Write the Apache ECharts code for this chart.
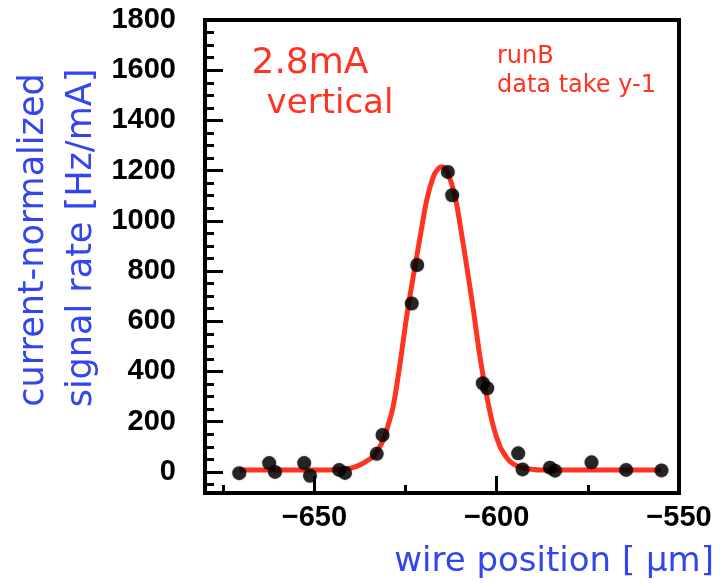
<!DOCTYPE html>
<html>
<head>
<meta charset="utf-8">
<script src="https://cdn.jsdelivr.net/npm/echarts@6/dist/echarts.min.js"></script>
<style>html,body{margin:0;padding:0;background:#fff}#c{width:720px;height:583px}</style>
</head>
<body>
<div id="c"></div>
<script>
// measured points
var pointX = [-670.6, -662.4, -660.8, -652.8, -651.2, -643.2, -641.6, -632.9, -631.3, -623.3, -621.8, -613.4, -612.2, -603.8, -602.6, -594.1, -592.9, -585.4, -584.0, -574.0, -564.5, -554.8];
var pointY = [-5, 35, 0, 35, -15, 8, -4, 72, 147, 671, 824, 1195, 1102, 353, 333, 74, 10, 17, 5, 38, 8, 6];
// fitted curve
var fitX = [-670.5, -660, -650, -643, -640, -637.5, -635.5, -633.8, -632.5, -631.1, -629.8, -628.4, -626.5, -624.7, -622.9, -621.0, -619.2, -617.4, -616.2, -615.1, -614.2, -613.3, -611.4, -610.1, -608.2, -606.4, -604.6, -602.7, -600.9, -599.1, -597.5, -596.3, -594.5, -592.7, -590, -588, -575, -554.8];
var fitY = [8, 8, 8, 10, 15, 28, 45, 61, 90, 127, 185, 260, 432, 618, 777, 936, 1082, 1175, 1205, 1215, 1208, 1189, 1096, 990, 817, 645, 459, 300, 180, 101, 62, 41, 24, 15, 10, 8, 8, 8];
var yLabels = [0, 200, 400, 600, 800, 1000, 1200, 1400, 1600, 1800];
var yMinor = [-50, 50, 100, 150, 250, 300, 350, 450, 500, 550, 650, 700, 750, 850, 900, 950, 1050, 1100, 1150, 1250, 1300, 1350, 1450, 1500, 1550, 1650, 1700, 1750];
var xLabels = [-650, -600, -550];
var xMajor = [-650, -600];
var xMinor = [-675, -625, -575];
var yRange = [-84, 1800];
var xRange = [-680, -550];

var RED = '#ff3322', BLUE = '#3346ee';
var chart = echarts.init(document.getElementById('c'), null, {renderer: 'canvas'});
function zip(a, b) { return a.map(function (v, i) { return [v, b[i]]; }); }
var lblFont = {fontFamily: 'Liberation Sans', fontWeight: 'bold', fontSize: 29, color: '#000'};
chart.setOption({
  backgroundColor: '#fff',
  animation: false,
  grid: {left: 205, right: 41, top: 20, bottom: 90, show: true, borderColor: '#000', borderWidth: 4, backgroundColor: 'transparent', outerBoundsMode: 'none'},
  xAxis: [
    {type: 'value', min: xRange[0], max: xRange[1], position: 'bottom',
     axisLine: {show: false, onZero: false}, splitLine: {show: false},
     axisTick: {show: true, inside: true, length: 17, lineStyle: {color: '#000', width: 3}, customValues: xMajor},
     axisLabel: Object.assign({show: true, margin: 10, customValues: xLabels, formatter: function (v) { return String(v).replace('-', '\u2212'); }}, lblFont)},
    {type: 'value', min: xRange[0], max: xRange[1], position: 'bottom',
     axisLine: {show: false, onZero: false}, splitLine: {show: false},
     axisTick: {show: true, inside: true, length: 8, lineStyle: {color: '#000', width: 3}, customValues: xMinor},
     axisLabel: {show: false}}
  ],
  yAxis: [
    {type: 'value', min: yRange[0], max: yRange[1], position: 'left',
     axisLine: {show: false, onZero: false}, splitLine: {show: false},
     axisTick: {show: true, inside: true, length: 18, lineStyle: {color: '#000', width: 3}, customValues: yLabels},
     axisLabel: Object.assign({show: true, margin: 29, customValues: yLabels, formatter: function (v) { return String(v); }}, lblFont)},
    {type: 'value', min: yRange[0], max: yRange[1], position: 'left',
     axisLine: {show: false, onZero: false}, splitLine: {show: false},
     axisTick: {show: true, inside: true, length: 9, lineStyle: {color: '#000', width: 3}, customValues: yMinor},
     axisLabel: {show: false}}
  ],
  series: [
    {type: 'line', data: zip(fitX, fitY), smooth: 0.3, showSymbol: false, symbol: 'none',
     lineStyle: {color: RED, width: 5}, z: 2},
    {type: 'scatter', data: zip(pointX, pointY), symbol: 'circle', symbolSize: 14,
     itemStyle: {color: '#000', shadowColor: 'rgba(0,0,0,0.35)', shadowBlur: 2}, z: 3}
  ],
  graphic: [
    {type: 'text', x: 310, y: 64, style: {text: '2.8mA', fontFamily: 'DejaVu Sans', fontSize: 36, fill: RED, align: 'center', verticalAlign: 'middle'}},
    {type: 'text', x: 330, y: 104, style: {text: 'vertical', fontFamily: 'DejaVu Sans', fontSize: 34, fill: RED, align: 'center', verticalAlign: 'middle'}},
    {type: 'text', x: 497, y: 57, style: {text: 'runB', fontFamily: 'DejaVu Sans', fontSize: 24, fill: RED, align: 'left', verticalAlign: 'middle'}},
    {type: 'text', x: 497, y: 86, style: {text: 'data take y-1', fontFamily: 'DejaVu Sans', fontSize: 24, fill: RED, align: 'left', verticalAlign: 'middle'}},
    {type: 'text', x: 714, y: 562, style: {text: 'wire position [ \u03bcm]', fontFamily: 'DejaVu Sans', fontSize: 34, fill: BLUE, align: 'right', verticalAlign: 'middle'}},
    {type: 'text', x: 34, y: 240, rotation: Math.PI / 2, style: {text: 'current-normalized', fontFamily: 'DejaVu Sans', fontSize: 35, fill: BLUE, align: 'center', verticalAlign: 'middle'}},
    {type: 'text', x: 82, y: 238, rotation: Math.PI / 2, style: {text: 'signal rate [Hz/mA]', fontFamily: 'DejaVu Sans', fontSize: 35, fill: BLUE, align: 'center', verticalAlign: 'middle'}}
  ]
});
</script>
</body>
</html>
